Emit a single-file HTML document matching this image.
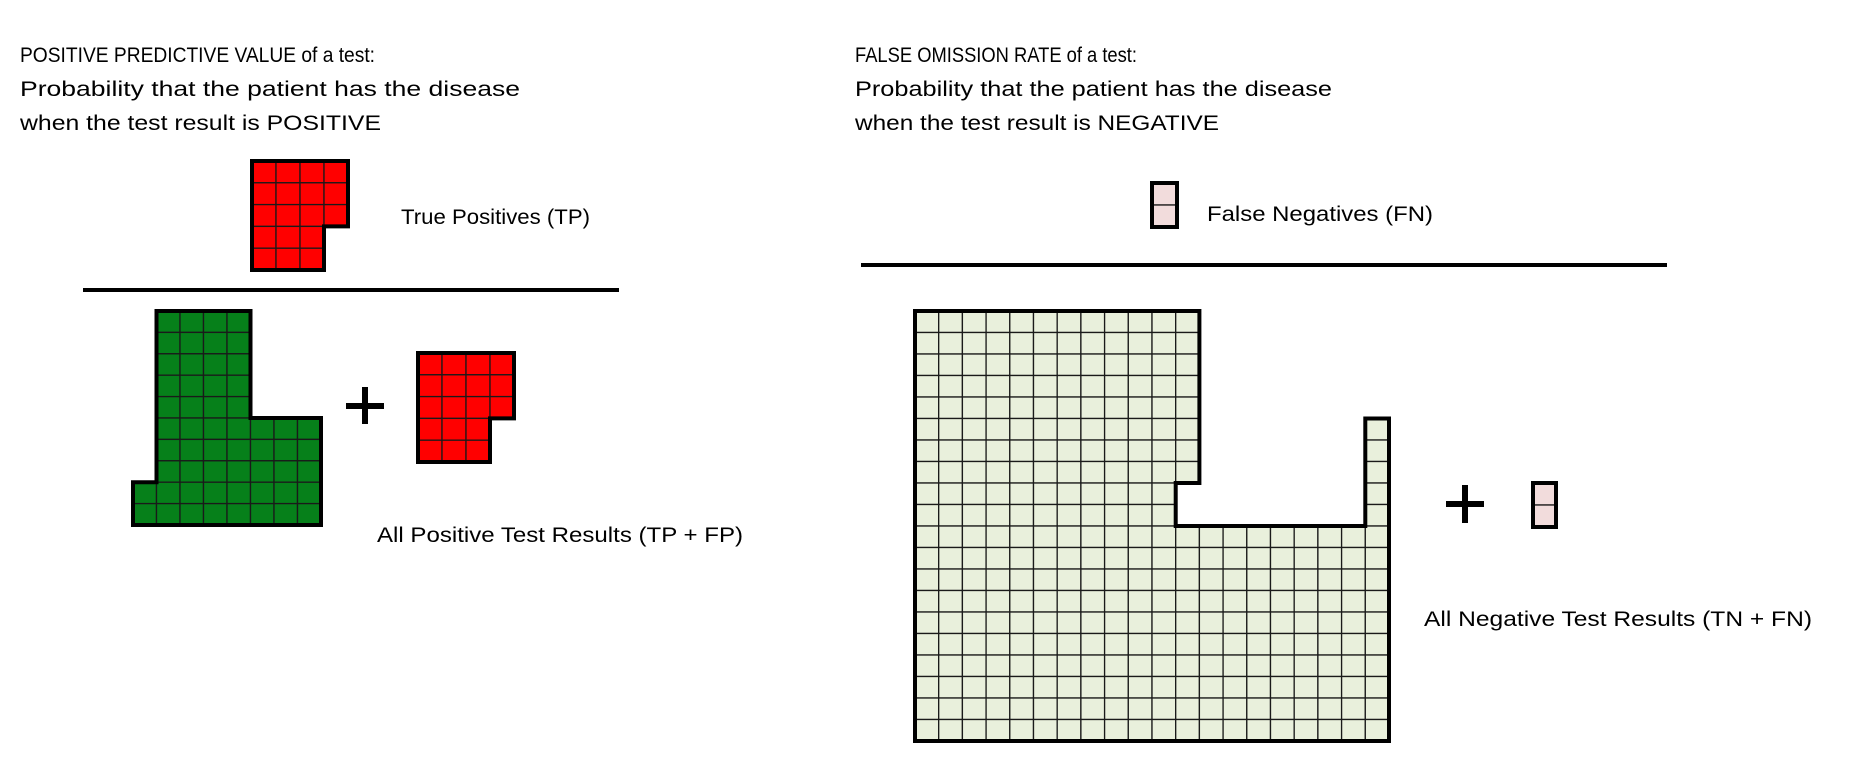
<!DOCTYPE html>
<html><head><meta charset="utf-8"><style>
html,body{margin:0;padding:0;background:#fff;}
svg{display:block;}
text{font-family:"Liberation Sans",sans-serif;fill:#000;}
</style></head><body>
<svg id="s" width="1851" height="774" viewBox="0 0 1851 774">
<g font-size="21">
<text x="20" y="62" textLength="355" lengthAdjust="spacingAndGlyphs">POSITIVE PREDICTIVE VALUE of a test:</text>
<text x="20" y="96" textLength="500" lengthAdjust="spacingAndGlyphs">Probability that the patient has the disease</text>
<text x="20" y="130" textLength="361" lengthAdjust="spacingAndGlyphs">when the test result is POSITIVE</text>
</g>
<g font-size="21">
<text x="855" y="62" textLength="282" lengthAdjust="spacingAndGlyphs">FALSE OMISSION RATE of a test:</text>
<text x="855" y="96" textLength="477" lengthAdjust="spacingAndGlyphs">Probability that the patient has the disease</text>
<text x="855" y="130" textLength="364" lengthAdjust="spacingAndGlyphs">when the test result is NEGATIVE</text>
</g>
<text x="401" y="224" font-size="21" textLength="189" lengthAdjust="spacingAndGlyphs">True Positives (TP)</text>
<text x="377" y="542" font-size="21" textLength="366" lengthAdjust="spacingAndGlyphs">All Positive Test Results (TP + FP)</text>
<text x="1207" y="221" font-size="21" textLength="226" lengthAdjust="spacingAndGlyphs">False Negatives (FN)</text>
<text x="1424" y="626" font-size="21" textLength="388" lengthAdjust="spacingAndGlyphs">All Negative Test Results (TN + FN)</text>
<rect x="83" y="288" width="536" height="4" fill="#000"/>
<rect x="861" y="263" width="806" height="4" fill="#000"/>
<g stroke="#000" stroke-width="6"><line x1="346" y1="406" x2="384" y2="406"/><line x1="365" y1="387" x2="365" y2="424"/></g>
<g stroke="#000" stroke-width="6"><line x1="1446" y1="504" x2="1484" y2="504"/><line x1="1465" y1="485" x2="1465" y2="523"/></g>
<g id="shapes"></g>
</svg>
<script>
// Each row: list of [startCol, endCol) filled segments
const tpRows = [[[0,4]],[[0,4]],[[0,4]],[[0,3]],[[0,3]]];
const fpRows = [[[0,4]],[[0,4]],[[0,4]],[[0,3]],[[0,3]]];
const tnRowsLeft = [[[1,5]],[[1,5]],[[1,5]],[[1,5]],[[1,5]],[[1,8]],[[1,8]],[[1,8]],[[0,8]],[[0,8]]];
const tnRowsRight = [
 [[0,12]],[[0,12]],[[0,12]],[[0,12]],[[0,12]],
 [[0,12],[19,20]],[[0,12],[19,20]],[[0,12],[19,20]],
 [[0,11],[19,20]],[[0,11],[19,20]],
 [[0,20]],[[0,20]],[[0,20]],[[0,20]],[[0,20]],[[0,20]],[[0,20]],[[0,20]],[[0,20]],[[0,20]]];
const fnRows = [[[0,1]],[[0,1]]];

const NS='http://www.w3.org/2000/svg';
const g=document.getElementById('shapes');
function draw(rows,x0,y0,cw,ch,fill,name){
  const grp=document.createElementNS(NS,'g');
  
  
  const filled=(r,c)=>r>=0&&r<rows.length&&rows[r].some(s=>c>=s[0]&&c<s[1]);
  let thick='';
  rows.forEach((segs,r)=>segs.forEach(s=>{for(let c=s[0];c<s[1];c++){
    const x=x0+c*cw,y=y0+r*ch;
    const rc=document.createElementNS(NS,'rect');
    rc.setAttribute('x',x);rc.setAttribute('y',y);rc.setAttribute('width',cw);rc.setAttribute('height',ch);
    rc.setAttribute('fill',fill);rc.setAttribute('stroke','#1a1a1a');rc.setAttribute('stroke-width','1.3');
    
    
    grp.appendChild(rc);
    if(!filled(r-1,c))thick+=`M${x} ${y}H${x+cw}`;
    if(!filled(r+1,c))thick+=`M${x} ${y+ch}H${x+cw}`;
    if(!filled(r,c-1))thick+=`M${x} ${y}V${y+ch}`;
    if(!filled(r,c+1))thick+=`M${x+cw} ${y}V${y+ch}`;
  }}));
  const p=document.createElementNS(NS,'path');
  p.setAttribute('d',thick);p.setAttribute('stroke','#000');p.setAttribute('stroke-width','4');
  p.setAttribute('stroke-linecap','square');p.setAttribute('fill','none');
  
  
  grp.appendChild(p);
  g.appendChild(grp);
}
draw(tpRows,252,161,24,21.8,'#ff0000','true-positives-grid');
draw(fpRows,418,353,24,21.8,'#ff0000','false-positives-grid');
draw(tnRowsLeft,133,311,23.5,21.4,'#06801a','true-positives-green-grid');
draw(tnRowsRight,915,311,23.7,21.5,'#e9f0dc','true-negatives-grid');
draw(fnRows,1152,183,25,22,'#f2dcdc','false-negatives-grid-top');
draw(fnRows,1533,483,23,22,'#f2dcdc','false-negatives-grid-bottom');
</script>
</body></html>
